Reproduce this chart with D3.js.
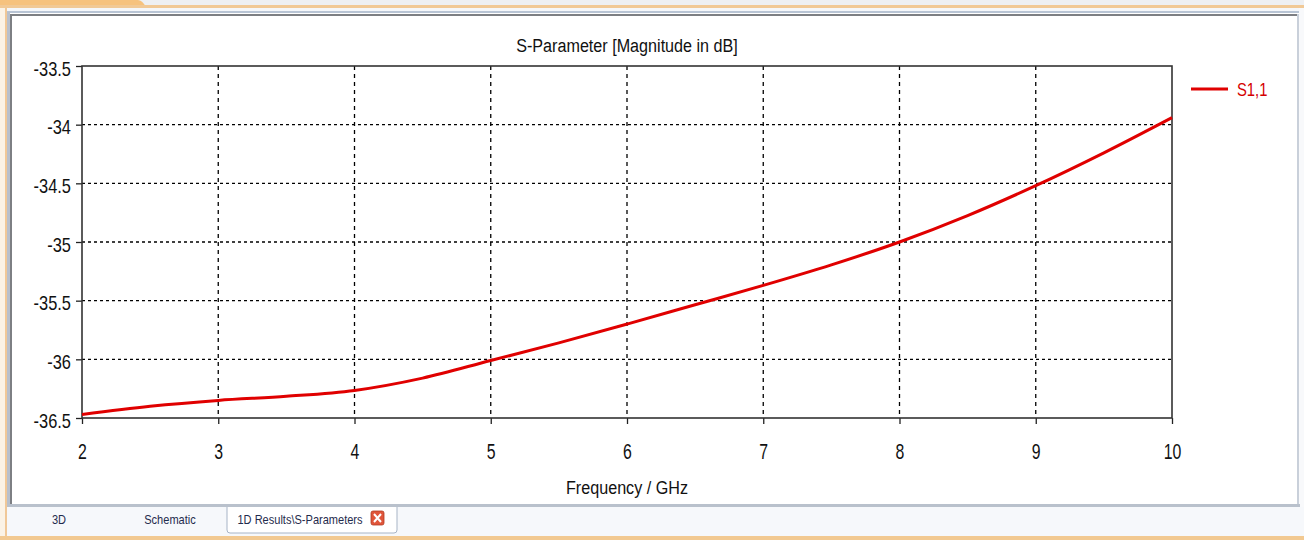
<!DOCTYPE html>
<html>
<head>
<meta charset="utf-8">
<script src="https://cdn.jsdelivr.net/npm/d3@7"></script>
<style>
  html, body { margin: 0; padding: 0; background: #ffffff; }
  svg { display: block; }
  text { font-family: "Liberation Sans", Arial, sans-serif; }
</style>
</head>
<body>
<svg id="chart" width="1304" height="540"></svg>
<script>
// ---- data ----
const freqGHz = [2, 2.5, 3, 3.5, 4, 4.5, 5, 5.5, 6, 6.5, 7, 7.5, 8, 8.5, 9, 9.5, 10];
const s11dB   = [-36.47, -36.40, -36.35, -36.315, -36.265, -36.16, -36.01, -35.86, -35.70, -35.535, -35.37, -35.195, -35.00, -34.775, -34.52, -34.24, -33.94];
const xTicks = [2, 3, 4, 5, 6, 7, 8, 9, 10];
const yTicks = [-36.5, -36, -35.5, -35, -34.5, -34, -33.5];
const yTickLabels = ["-36.5", "-36", "-35.5", "-35", "-34.5", "-34", "-33.5"];
const seriesName = "S1,1";
const chartTitle = "S-Parameter [Magnitude in dB]";
const xAxisTitle = "Frequency / GHz";
const tabLabels = ["3D", "Schematic", "1D Results\\S-Parameters"];

const svg = d3.select("#chart");

// condensed text helper
function ctext(g, x, y, size, sx, anchor, str, fill) {
  return g.append("text")
    .attr("transform", `translate(${x},${y}) scale(${sx},1)`)
    .attr("text-anchor", anchor).attr("font-size", size)
    .attr("fill", fill).text(str);
}

// ---- window frame ----
const frame = svg.append("g");
frame.append("rect").attr("x", 0).attr("y", 0).attr("width", 1304).attr("height", 8).attr("fill", "#eef0f3");
frame.append("path").attr("d", "M0,0 H138 Q142,0 146,7 H0 Z").attr("fill", "#f6c27e");
frame.append("rect").attr("x", 0).attr("y", 5).attr("width", 1304).attr("height", 3).attr("fill", "#f1c996");
frame.append("rect").attr("x", 0).attr("y", 8).attr("width", 1304).attr("height", 4).attr("fill", "#f5f7fa");
frame.append("rect").attr("x", 6).attr("y", 11).attr("width", 1294).attr("height", 2).attr("fill", "#b8c4d4");
frame.append("rect").attr("x", 10).attr("y", 14).attr("width", 1288).attr("height", 2).attr("fill", "#7d7f83");
// left border
frame.append("rect").attr("x", 0).attr("y", 8).attr("width", 6).attr("height", 532).attr("fill", "#fbf3e6");
frame.append("rect").attr("x", 5).attr("y", 8).attr("width", 2).attr("height", 532).attr("fill", "#f0c898");
frame.append("rect").attr("x", 7).attr("y", 12).attr("width", 3).attr("height", 495).attr("fill", "#b8c0cc");
frame.append("rect").attr("x", 10).attr("y", 14).attr("width", 2).attr("height", 491).attr("fill", "#7d7f83");
// right border
frame.append("rect").attr("x", 1297).attr("y", 14).attr("width", 2).attr("height", 493).attr("fill", "#c9d0da");
frame.append("rect").attr("x", 1299).attr("y", 8).attr("width", 5).attr("height", 532).attr("fill", "#f8f9fb");
// bottom tab bar
frame.append("rect").attr("x", 7).attr("y", 504).attr("width", 1293).attr("height", 3).attr("fill", "#b9c1cc");
frame.append("rect").attr("x", 7).attr("y", 507).attr("width", 1297).attr("height", 29).attr("fill", "#f6f8fb");
frame.append("rect").attr("x", 0).attr("y", 536).attr("width", 1304).attr("height", 4).attr("fill", "#f2c991");

const tabs = frame.append("g");
tabs.append("path").attr("d", "M227,507 V530 Q227,533 230,533 H394 Q397,533 397,530 V507")
  .attr("fill", "#ffffff").attr("stroke", "#a7b4c6").attr("stroke-width", 1);
const tabX = [59, 170, 300];
tabLabels.forEach((t, i) => {
  ctext(tabs, tabX[i], 524, 13, 0.85, "middle", t, "#1f2b4d");
});
tabs.append("rect").attr("x", 371).attr("y", 511).attr("width", 13).attr("height", 14).attr("rx", 2)
  .attr("fill", "#e0553a").attr("stroke", "#b33b22").attr("stroke-width", 0.8);
tabs.append("path").attr("d", "M374,514 L381,522 M381,514 L374,522").attr("stroke", "#ffffff").attr("stroke-width", 2);

// ---- chart ----
const margin = { left: 82, right: 1172, top: 66, bottom: 418 };
const x = d3.scaleLinear().domain([2, 10]).range([margin.left, margin.right]);
const y = d3.scaleLinear().domain([-36.5, -33.5]).range([margin.bottom, margin.top]);

const grid = svg.append("g");
grid.selectAll("line.v").data(xTicks.slice(1, -1)).join("line")
  .attr("x1", d => x(d)).attr("x2", d => x(d))
  .attr("y1", margin.top).attr("y2", margin.bottom)
  .attr("stroke", "#000").attr("stroke-width", 1.3).attr("stroke-dasharray", "4,4");
grid.selectAll("line.h").data(yTicks.slice(1, -1)).join("line")
  .attr("x1", margin.left).attr("x2", margin.right)
  .attr("y1", d => y(d)).attr("y2", d => y(d))
  .attr("stroke", "#000").attr("stroke-width", 1.3).attr("stroke-dasharray", "3,3");

// axes
const yAxis = d3.axisLeft(y).tickValues(yTicks).tickSize(6).tickPadding(7.5)
  .tickFormat((d, i) => yTickLabels[i]);
const gy = svg.append("g").attr("transform", `translate(${margin.left},0)`).call(yAxis);
gy.select(".domain").remove();
gy.selectAll("line").attr("stroke", "#222").attr("stroke-width", 1.3);
gy.selectAll("text").attr("font-size", 20).attr("fill", "#111")
  .attr("font-family", "'Liberation Sans', Arial, sans-serif")
  .attr("dy", "0.46em").attr("transform", "scale(0.82,1)");

const xAxis = d3.axisBottom(x).tickValues(xTicks).tickSize(6).tickPadding(19).tickFormat(d3.format("d"));
const gx = svg.append("g").attr("transform", `translate(0,${margin.bottom})`).call(xAxis);
gx.select(".domain").remove();
gx.selectAll("line").attr("stroke", "#222").attr("stroke-width", 1.3);
gx.selectAll("text").attr("font-size", 22).attr("fill", "#111")
  .attr("font-family", "'Liberation Sans', Arial, sans-serif")
  .attr("transform", "scale(0.72,1)");

// plot frame
svg.append("rect").attr("x", margin.left).attr("y", margin.top)
  .attr("width", margin.right - margin.left).attr("height", margin.bottom - margin.top)
  .attr("fill", "none").attr("stroke", "#333").attr("stroke-width", 1.6);

// curve
const line = d3.line().x((d, i) => x(freqGHz[i])).y(d => y(d)).curve(d3.curveCatmullRom.alpha(0.5));
svg.append("path").datum(s11dB).attr("d", line)
  .attr("fill", "none").attr("stroke", "#e00000").attr("stroke-width", 3);

// titles
ctext(svg, 627, 52, 19, 0.85, "middle", chartTitle, "#111");
ctext(svg, 627, 494, 19, 0.85, "middle", xAxisTitle, "#111");

// legend
const lg = svg.append("g");
lg.append("line").attr("x1", 1191).attr("x2", 1228).attr("y1", 89).attr("y2", 89)
  .attr("stroke", "#e00000").attr("stroke-width", 3);
ctext(lg, 1237, 96, 19, 0.78, "start", seriesName, "#d40000");
</script>
</body>
</html>
